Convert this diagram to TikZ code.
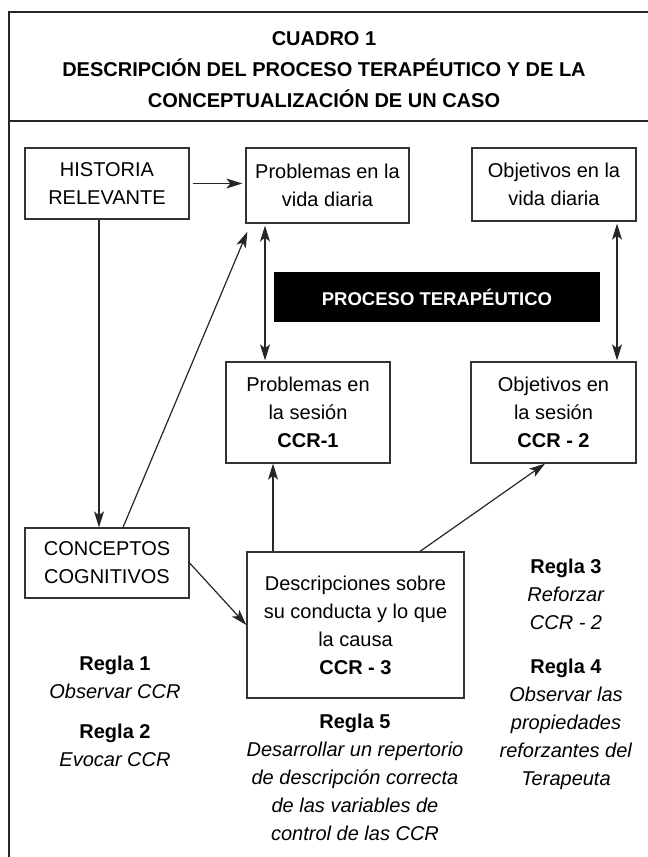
\documentclass[tikz,border=0pt]{standalone}
\usepackage{fontspec}
\setmainfont{Liberation Sans}
\usetikzlibrary{arrows.meta}
\tikzset{
  caja/.style={draw=black!80,line width=1.3pt,align=center,inner sep=0pt,font=\fontsize{20}{28}\selectfont},
  punta/.tip={Stealth[length=16pt,width=10pt,inset=4pt]},
  flecha/.style={-punta,line width=1.2pt,draw=black!85},
  doble/.style={punta-punta,line width=1.2pt,draw=black!85},
  regla/.style={align=center,font=\fontsize{20}{28}\selectfont}
}
\begin{document}
\begin{tikzpicture}[x=1pt,y=-1pt]
\useasboundingbox(0,0)rectangle(648,857);
%
\draw[line width=2.5pt,black!85](9,857)--(9,12)--(648,12);
\draw[line width=1.4pt,black!85](9,121)--(648,121);
\node[align=center,font=\bfseries\fontsize{20}{31}\selectfont](titulo)at(324,70){CUADRO 1\\DESCRIPCIÓN DEL PROCESO TERAPÉUTICO Y DE LA\\CONCEPTUALIZACIÓN DE UN CASO};
%
\node[caja,minimum width=164pt,minimum height=71pt](historia)at(107,183.5){HISTORIA\\RELEVANTE};
\node[caja,minimum width=163pt,minimum height=75pt](vidaP)at(327.5,185.5){Problemas en la\\vida diaria};
\node[caja,minimum width=164pt,minimum height=73pt](vidaO)at(554,184.5){Objetivos en la\\vida diaria};
\node[fill=black,text=white,font=\bfseries\fontsize{18.5}{22}\selectfont,minimum width=326pt,minimum height=50pt,inner sep=0pt](proceso)at(437,297){PROCESO TERAPÉUTICO};
\node[caja,minimum width=164pt,minimum height=101pt](sesionP)at(308,412.5){Problemas en\\la sesión\\\textbf{CCR-1}};
\node[caja,minimum width=165pt,minimum height=101pt](sesionO)at(553.5,412.5){Objetivos en\\la sesión\\\textbf{CCR - 2}};
\node[caja,minimum width=164pt,minimum height=70pt](conceptos)at(107,563){CONCEPTOS\\COGNITIVOS};
\node[caja,minimum width=217pt,minimum height=146pt](desc)at(355.5,625){Descripciones sobre\\su conducta y lo que\\la causa\\\textbf{CCR - 3}};
%
\node[regla](regla1)at(115,677){\textbf{Regla 1}\\\textit{Observar CCR}};
\node[regla](regla2)at(115,745){\textbf{Regla 2}\\\textit{Evocar CCR}};
\node[regla](regla3)at(566,594){\textbf{Regla 3}\\\textit{Reforzar}\\\textit{CCR - 2}};
\node[regla](regla4)at(566,724){\textbf{Regla 4}\\\textit{Observar las}\\\textit{propiedades}\\\textit{reforzantes del}\\\textit{Terapeuta}};
\node[regla](regla5)at(355,777){\textbf{Regla 5}\\\textit{Desarrollar un repertorio}\\\textit{de descripción correcta}\\\textit{de las variables de}\\\textit{control de las CCR}};
%
\coordinate(colH)at(99,0);
\coordinate(colL)at(265,0);
\coordinate(colR)at(617,0);
\coordinate(colD)at(273,0);
\draw[flecha,shorten <=3pt,shorten >=3pt](historia.east)--(historia.east-|vidaP.west);
\draw[flecha](historia.south-|colH)--(conceptos.north-|colH);
\draw[doble,shorten <=2pt,shorten >=1pt](vidaP.south-|colL)--(sesionP.north-|colL);
\draw[doble,shorten <=2pt,shorten >=1pt](vidaO.south-|colR)--(sesionO.north-|colR);
\draw[flecha]([xshift=16pt]conceptos.north)--([xshift=2pt,yshift=-8pt]vidaP.south west);
\draw[flecha](conceptos.east)--(desc.west);
\draw[flecha](desc.north-|colD)--(sesionP.south-|colD);
\draw[flecha]([xshift=64.5pt]desc.north)--([xshift=-8.5pt]sesionO.south);
\end{tikzpicture}
\end{document}
